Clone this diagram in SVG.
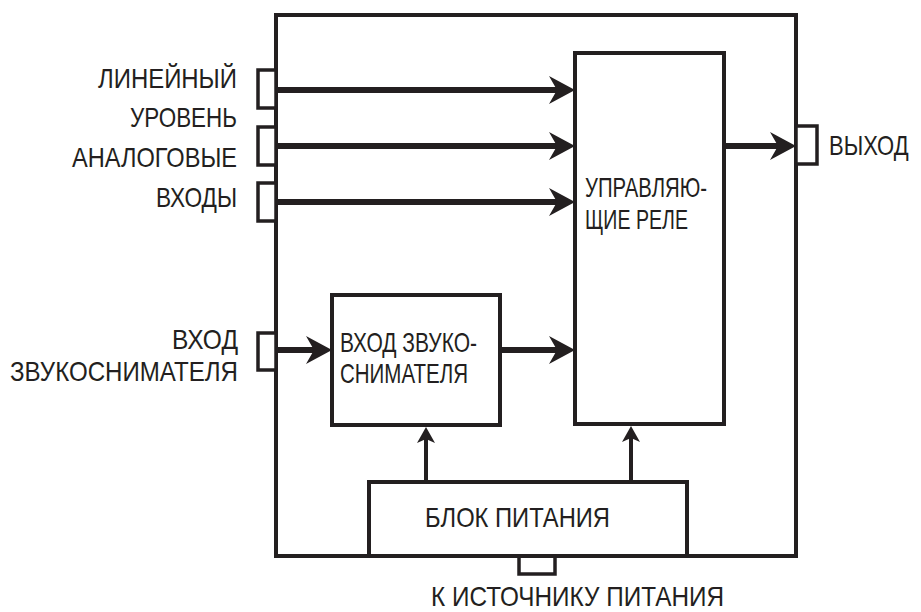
<svg xmlns="http://www.w3.org/2000/svg" width="921" height="612" viewBox="0 0 921 612">
<style>
  .box { fill: #fff; stroke: #231f20; stroke-width: 4; }
  .frame { fill: none; stroke: #231f20; stroke-width: 4; }
  .port { fill: #fff; stroke: #231f20; stroke-width: 3.5; }
  .thick { stroke: #231f20; stroke-width: 6; fill: none; }
  .thin { stroke: #231f20; stroke-width: 4; fill: none; }
  text { font-family: "Liberation Sans", Arial, sans-serif; font-size: 27.5px; fill: #231f20; }
</style>
<defs>
  <marker id="big" markerUnits="userSpaceOnUse" markerWidth="40" markerHeight="40" refX="0" refY="0" orient="auto" overflow="visible">
    <path d="M15,0 L-11,-14 L-3,0 L-11,14 Z" fill="#231f20"/>
  </marker>
  <marker id="small" markerUnits="userSpaceOnUse" markerWidth="30" markerHeight="30" refX="0" refY="0" orient="auto" overflow="visible">
    <path d="M10,0 L-6,-9 L-2,0 L-6,9 Z" fill="#231f20"/>
  </marker>
</defs>

<g id="frame">
  <rect class="frame" x="276" y="15" width="520" height="541"/>
</g>

<g id="port-line1"><rect class="port" x="258" y="70" width="18" height="38"/></g>
<g id="port-line2"><rect class="port" x="258" y="127" width="18" height="38"/></g>
<g id="port-line3"><rect class="port" x="258" y="183" width="18" height="38"/></g>
<g id="port-pickup"><rect class="port" x="258" y="333" width="18" height="37"/></g>
<g id="port-out"><rect class="port" x="796" y="126" width="21" height="38"/></g>
<g id="port-power"><rect class="port" x="519" y="556" width="36" height="18"/></g>

<g id="relay">
  <rect class="box" x="575" y="53" width="149" height="371"/>
  <text x="585" y="197" textLength="122" lengthAdjust="spacingAndGlyphs">УПРАВЛЯЮ-</text>
  <text x="585" y="229" textLength="103" lengthAdjust="spacingAndGlyphs">ЩИЕ РЕЛЕ</text>
</g>

<g id="pickup">
  <rect class="box" x="332" y="295" width="168" height="130"/>
  <text x="340" y="352" textLength="137" lengthAdjust="spacingAndGlyphs">ВХОД ЗВУКО-</text>
  <text x="340" y="383" textLength="128" lengthAdjust="spacingAndGlyphs">СНИМАТЕЛЯ</text>
</g>

<g id="power">
  <rect class="box" x="369" y="482" width="318" height="74"/>
  <text x="425" y="527" textLength="185" lengthAdjust="spacingAndGlyphs">БЛОК ПИТАНИЯ</text>
</g>

<g id="connectors">
  <line class="thick" x1="276" y1="90" x2="560" y2="90" marker-end="url(#big)"/>
  <line class="thick" x1="276" y1="146" x2="560" y2="146" marker-end="url(#big)"/>
  <line class="thick" x1="276" y1="202" x2="560" y2="202" marker-end="url(#big)"/>
  <line class="thick" x1="276" y1="350" x2="317" y2="350" marker-end="url(#big)"/>
  <line class="thick" x1="500" y1="350" x2="560" y2="350" marker-end="url(#big)"/>
  <line class="thick" x1="724" y1="146" x2="781" y2="146" marker-end="url(#big)"/>
  <line class="thin" x1="426" y1="482" x2="426" y2="437" marker-end="url(#small)"/>
  <line class="thin" x1="631" y1="482" x2="631" y2="436" marker-end="url(#small)"/>
</g>

<g id="labels">
  <text x="237" y="88" text-anchor="end" textLength="139" lengthAdjust="spacingAndGlyphs">ЛИНЕЙНЫЙ</text>
  <text x="237" y="127" text-anchor="end" textLength="107" lengthAdjust="spacingAndGlyphs">УРОВЕНЬ</text>
  <text x="237" y="167" text-anchor="end" textLength="165" lengthAdjust="spacingAndGlyphs">АНАЛОГОВЫЕ</text>
  <text x="237" y="207" text-anchor="end" textLength="81" lengthAdjust="spacingAndGlyphs">ВХОДЫ</text>
  <text x="238" y="349" text-anchor="end" textLength="66" lengthAdjust="spacingAndGlyphs">ВХОД</text>
  <text x="238" y="381" text-anchor="end" textLength="228" lengthAdjust="spacingAndGlyphs">ЗВУКОСНИМАТЕЛЯ</text>
  <text transform="translate(829,155) scale(0.8,1)">ВЫХОД</text>
  <text x="431" y="606" textLength="293" lengthAdjust="spacingAndGlyphs">К ИСТОЧНИКУ ПИТАНИЯ</text>
</g>
</svg>
